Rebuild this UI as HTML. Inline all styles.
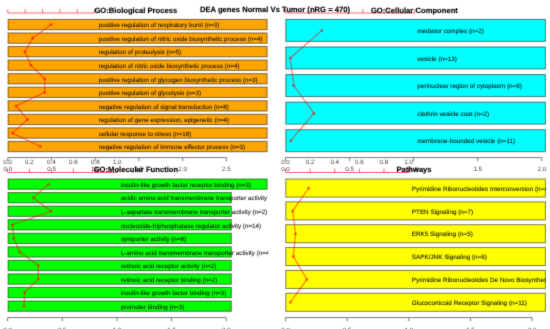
<!DOCTYPE html>
<html><head><meta charset="utf-8"><style>
html,body{margin:0;padding:0;background:#fff;}
body{width:550px;height:329px;overflow:hidden;font-family:"Liberation Sans", sans-serif;}
svg{display:block;text-rendering:geometricPrecision;}
</style></head><body>
<svg width="550" height="329" viewBox="0 0 550 329" font-family='"Liberation Sans", sans-serif'>
<filter id="bl" filterUnits="userSpaceOnUse" x="-5" y="-5" width="560" height="339" color-interpolation-filters="sRGB"><feConvolveMatrix order="3" kernelMatrix="0.01134 0.08382 0.01134 0.08382 0.61935 0.08382 0.01134 0.08382 0.01134" divisor="1" edgeMode="duplicate" preserveAlpha="true"/></filter>
<rect width="550" height="329" fill="#fff"/>
<g filter="url(#bl)">
<rect x="-5" y="-5" width="560" height="339" fill="#fff"/>
<rect x="8.10" y="19.40" width="259.00" height="10.30" fill="#FFA500" stroke="rgba(0,0,0,0.5)" stroke-width="1"/>
<rect x="8.10" y="32.96" width="259.00" height="10.30" fill="#FFA500" stroke="rgba(0,0,0,0.5)" stroke-width="1"/>
<rect x="8.10" y="46.51" width="259.00" height="10.30" fill="#FFA500" stroke="rgba(0,0,0,0.5)" stroke-width="1"/>
<rect x="8.10" y="60.07" width="259.00" height="10.30" fill="#FFA500" stroke="rgba(0,0,0,0.5)" stroke-width="1"/>
<rect x="8.10" y="73.62" width="259.00" height="10.30" fill="#FFA500" stroke="rgba(0,0,0,0.5)" stroke-width="1"/>
<rect x="8.10" y="87.18" width="259.00" height="10.30" fill="#FFA500" stroke="rgba(0,0,0,0.5)" stroke-width="1"/>
<rect x="8.10" y="100.74" width="259.00" height="10.30" fill="#FFA500" stroke="rgba(0,0,0,0.5)" stroke-width="1"/>
<rect x="8.10" y="114.29" width="259.00" height="10.30" fill="#FFA500" stroke="rgba(0,0,0,0.5)" stroke-width="1"/>
<rect x="8.10" y="127.85" width="259.00" height="10.30" fill="#FFA500" stroke="rgba(0,0,0,0.5)" stroke-width="1"/>
<rect x="8.10" y="141.40" width="259.00" height="10.30" fill="#FFA500" stroke="rgba(0,0,0,0.5)" stroke-width="1"/>
<clipPath id="c1"><rect x="0" y="0" width="268.2" height="329"/></clipPath>
<g clip-path="url(#c1)" font-size="6.25" fill="#111" stroke="#111" stroke-width="0.25" stroke-opacity="0.3">
<text x="98.7" y="27.30">positive regulation of respiratory burst (n=3)</text>
<text x="98.7" y="40.85">positive regulation of nitric oxide biosynthetic process (n=4)</text>
<text x="98.7" y="54.41">regulation of proteolysis (n=5)</text>
<text x="98.7" y="67.97">regulation of nitric oxide biosynthetic process (n=4)</text>
<text x="98.7" y="81.52">positive regulation of glycogen biosynthetic process (n=3)</text>
<text x="98.7" y="95.08">positive regulation of glycolysis (n=3)</text>
<text x="98.7" y="108.63">negative regulation of signal transduction (n=8)</text>
<text x="98.7" y="122.19">regulation of gene expression, epigenetic (n=4)</text>
<text x="98.7" y="135.75">cellular response to stress (n=18)</text>
<text x="98.7" y="149.30">negative regulation of immune effector process (n=3)</text>
</g>
<path d="M51.10,24.55 L32.60,38.10 L24.90,51.66 L30.90,65.22 L44.70,78.77 L44.70,92.33 L16.00,105.88 L27.70,119.44 L12.30,133.00 L40.40,146.55" fill="none" stroke="rgba(255,0,0,0.55)" stroke-width="1.1"/>
<circle cx="51.10" cy="24.55" r="1.5" fill="rgba(255,0,0,0.5)"/>
<circle cx="32.60" cy="38.10" r="1.5" fill="rgba(255,0,0,0.5)"/>
<circle cx="24.90" cy="51.66" r="1.5" fill="rgba(255,0,0,0.5)"/>
<circle cx="30.90" cy="65.22" r="1.5" fill="rgba(255,0,0,0.5)"/>
<circle cx="44.70" cy="78.77" r="1.5" fill="rgba(255,0,0,0.5)"/>
<circle cx="44.70" cy="92.33" r="1.5" fill="rgba(255,0,0,0.5)"/>
<circle cx="16.00" cy="105.88" r="1.5" fill="rgba(255,0,0,0.5)"/>
<circle cx="27.70" cy="119.44" r="1.5" fill="rgba(255,0,0,0.5)"/>
<circle cx="12.30" cy="133.00" r="1.5" fill="rgba(255,0,0,0.5)"/>
<circle cx="40.40" cy="146.55" r="1.5" fill="rgba(255,0,0,0.5)"/>
<rect x="285.80" y="19.40" width="259.60" height="21.98" fill="#00FFFF" stroke="rgba(0,0,0,0.5)" stroke-width="1"/>
<rect x="285.80" y="46.98" width="259.60" height="21.98" fill="#00FFFF" stroke="rgba(0,0,0,0.5)" stroke-width="1"/>
<rect x="285.80" y="74.56" width="259.60" height="21.98" fill="#00FFFF" stroke="rgba(0,0,0,0.5)" stroke-width="1"/>
<rect x="285.80" y="102.14" width="259.60" height="21.98" fill="#00FFFF" stroke="rgba(0,0,0,0.5)" stroke-width="1"/>
<rect x="285.80" y="129.72" width="259.60" height="21.98" fill="#00FFFF" stroke="rgba(0,0,0,0.5)" stroke-width="1"/>
<clipPath id="c2"><rect x="0" y="0" width="546.0" height="329"/></clipPath>
<g clip-path="url(#c2)" font-size="6.34" fill="#111" stroke="#111" stroke-width="0.25" stroke-opacity="0.3">
<text x="417.3" y="33.14">mediator complex (n=2)</text>
<text x="417.3" y="60.72">vesicle (n=13)</text>
<text x="417.3" y="88.30">perinuclear region of cytoplasm (n=6)</text>
<text x="417.3" y="115.88">clathrin vesicle coat (n=2)</text>
<text x="417.3" y="143.46">membrane-bounded vesicle (n=11)</text>
</g>
<path d="M321.80,30.39 L290.30,57.97 L293.70,85.55 L313.90,113.13 L290.80,140.71" fill="none" stroke="rgba(255,0,0,0.55)" stroke-width="1.1"/>
<circle cx="321.80" cy="30.39" r="1.5" fill="rgba(255,0,0,0.5)"/>
<circle cx="290.30" cy="57.97" r="1.5" fill="rgba(255,0,0,0.5)"/>
<circle cx="293.70" cy="85.55" r="1.5" fill="rgba(255,0,0,0.5)"/>
<circle cx="313.90" cy="113.13" r="1.5" fill="rgba(255,0,0,0.5)"/>
<circle cx="290.80" cy="140.71" r="1.5" fill="rgba(255,0,0,0.5)"/>
<rect x="8.10" y="179.00" width="259.00" height="10.30" fill="#00FF00" stroke="rgba(0,0,0,0.5)" stroke-width="1"/>
<rect x="8.10" y="192.56" width="223.20" height="10.30" fill="#00FF00" stroke="rgba(0,0,0,0.5)" stroke-width="1"/>
<rect x="8.10" y="206.11" width="223.20" height="10.30" fill="#00FF00" stroke="rgba(0,0,0,0.5)" stroke-width="1"/>
<rect x="8.10" y="219.67" width="223.20" height="10.30" fill="#00FF00" stroke="rgba(0,0,0,0.5)" stroke-width="1"/>
<rect x="8.10" y="233.22" width="223.20" height="10.30" fill="#00FF00" stroke="rgba(0,0,0,0.5)" stroke-width="1"/>
<rect x="8.10" y="246.78" width="223.20" height="10.30" fill="#00FF00" stroke="rgba(0,0,0,0.5)" stroke-width="1"/>
<rect x="8.10" y="260.34" width="223.20" height="10.30" fill="#00FF00" stroke="rgba(0,0,0,0.5)" stroke-width="1"/>
<rect x="8.10" y="273.89" width="223.20" height="10.30" fill="#00FF00" stroke="rgba(0,0,0,0.5)" stroke-width="1"/>
<rect x="8.10" y="287.45" width="223.20" height="10.30" fill="#00FF00" stroke="rgba(0,0,0,0.5)" stroke-width="1"/>
<rect x="8.10" y="301.00" width="223.20" height="10.30" fill="#00FF00" stroke="rgba(0,0,0,0.5)" stroke-width="1"/>
<clipPath id="c3"><rect x="0" y="0" width="268.2" height="329"/></clipPath>
<g clip-path="url(#c3)" font-size="6.25" fill="#111" stroke="#111" stroke-width="0.25" stroke-opacity="0.3">
<text x="120.9" y="186.90">insulin-like growth factor receptor binding (n=3)</text>
<text x="120.9" y="200.45">acidic amino acid transmembrane transporter activity (n=2)</text>
<text x="120.9" y="214.01">L-aspartate transmembrane transporter activity (n=2)</text>
<text x="120.9" y="227.57">nucleoside-triphosphatase regulator activity (n=14)</text>
<text x="120.9" y="241.12">symporter activity (n=8)</text>
<text x="120.9" y="254.68">L-amino acid transmembrane transporter activity (n=4)</text>
<text x="120.9" y="268.23">retinoic acid receptor activity (n=2)</text>
<text x="120.9" y="281.79">retinoic acid receptor binding (n=2)</text>
<text x="120.9" y="295.35">insulin-like growth factor binding (n=3)</text>
<text x="120.9" y="308.90">promoter binding (n=3)</text>
</g>
<path d="M48.50,184.15 L33.40,197.70 L51.10,211.26 L12.30,224.82 L13.80,238.37 L19.60,251.93 L38.30,265.48 L38.30,279.04 L24.50,292.60 L24.00,306.15" fill="none" stroke="rgba(255,0,0,0.55)" stroke-width="1.1"/>
<circle cx="48.50" cy="184.15" r="1.5" fill="rgba(255,0,0,0.5)"/>
<circle cx="33.40" cy="197.70" r="1.5" fill="rgba(255,0,0,0.5)"/>
<circle cx="51.10" cy="211.26" r="1.5" fill="rgba(255,0,0,0.5)"/>
<circle cx="12.30" cy="224.82" r="1.5" fill="rgba(255,0,0,0.5)"/>
<circle cx="13.80" cy="238.37" r="1.5" fill="rgba(255,0,0,0.5)"/>
<circle cx="19.60" cy="251.93" r="1.5" fill="rgba(255,0,0,0.5)"/>
<circle cx="38.30" cy="265.48" r="1.5" fill="rgba(255,0,0,0.5)"/>
<circle cx="38.30" cy="279.04" r="1.5" fill="rgba(255,0,0,0.5)"/>
<circle cx="24.50" cy="292.60" r="1.5" fill="rgba(255,0,0,0.5)"/>
<circle cx="24.00" cy="306.15" r="1.5" fill="rgba(255,0,0,0.5)"/>
<rect x="285.80" y="179.00" width="259.60" height="18.04" fill="#FFFF00" stroke="rgba(0,0,0,0.5)" stroke-width="1"/>
<rect x="285.80" y="201.85" width="259.60" height="18.04" fill="#FFFF00" stroke="rgba(0,0,0,0.5)" stroke-width="1"/>
<rect x="285.80" y="224.70" width="259.60" height="18.04" fill="#FFFF00" stroke="rgba(0,0,0,0.5)" stroke-width="1"/>
<rect x="285.80" y="247.55" width="259.60" height="18.04" fill="#FFFF00" stroke="rgba(0,0,0,0.5)" stroke-width="1"/>
<rect x="285.80" y="270.41" width="259.60" height="18.04" fill="#FFFF00" stroke="rgba(0,0,0,0.5)" stroke-width="1"/>
<rect x="285.80" y="293.26" width="259.60" height="18.04" fill="#FFFF00" stroke="rgba(0,0,0,0.5)" stroke-width="1"/>
<clipPath id="c4"><rect x="0" y="0" width="546.0" height="329"/></clipPath>
<g clip-path="url(#c4)" font-size="6.34" fill="#111" stroke="#111" stroke-width="0.25" stroke-opacity="0.3">
<text x="411.8" y="190.77">Pyrimidine Ribonucleotides Interconversion (n=4)</text>
<text x="411.8" y="213.62">PTEN Signaling (n=7)</text>
<text x="411.8" y="236.47">ERK5 Signaling (n=5)</text>
<text x="411.8" y="259.33">SAPK/JNK Signaling (n=6)</text>
<text x="411.8" y="282.18">Pyrimidine Ribonucleotides De Novo Biosynthesis (n=4)</text>
<text x="411.8" y="305.03">Glucocorticoid Receptor Signaling (n=11)</text>
</g>
<path d="M308.80,188.02 L292.70,210.87 L295.50,233.72 L293.40,256.58 L306.90,279.43 L290.40,302.28" fill="none" stroke="rgba(255,0,0,0.55)" stroke-width="1.1"/>
<circle cx="308.80" cy="188.02" r="1.5" fill="rgba(255,0,0,0.5)"/>
<circle cx="292.70" cy="210.87" r="1.5" fill="rgba(255,0,0,0.5)"/>
<circle cx="295.50" cy="233.72" r="1.5" fill="rgba(255,0,0,0.5)"/>
<circle cx="293.40" cy="256.58" r="1.5" fill="rgba(255,0,0,0.5)"/>
<circle cx="306.90" cy="279.43" r="1.5" fill="rgba(255,0,0,0.5)"/>
<circle cx="290.40" cy="302.28" r="1.5" fill="rgba(255,0,0,0.5)"/>
<path d="M7.80,13.0 H94.55" stroke="rgba(255,40,40,0.7)" stroke-width="1" fill="none"/>
<path d="M7.80,13.0 V9.20" stroke="rgba(255,40,40,0.7)" stroke-width="1" fill="none"/>
<path d="M25.15,13.0 V9.20" stroke="rgba(255,40,40,0.7)" stroke-width="1" fill="none"/>
<path d="M42.50,13.0 V9.20" stroke="rgba(255,40,40,0.7)" stroke-width="1" fill="none"/>
<path d="M59.85,13.0 V9.20" stroke="rgba(255,40,40,0.7)" stroke-width="1" fill="none"/>
<path d="M77.20,13.0 V9.20" stroke="rgba(255,40,40,0.7)" stroke-width="1" fill="none"/>
<path d="M94.55,13.0 V9.20" stroke="rgba(255,40,40,0.7)" stroke-width="1" fill="none"/>
<path d="M285.50,13.0 H414.50" stroke="rgba(255,40,40,0.7)" stroke-width="1" fill="none"/>
<path d="M285.50,13.0 V9.20" stroke="rgba(255,40,40,0.7)" stroke-width="1" fill="none"/>
<path d="M311.30,13.0 V9.20" stroke="rgba(255,40,40,0.7)" stroke-width="1" fill="none"/>
<path d="M337.10,13.0 V9.20" stroke="rgba(255,40,40,0.7)" stroke-width="1" fill="none"/>
<path d="M362.90,13.0 V9.20" stroke="rgba(255,40,40,0.7)" stroke-width="1" fill="none"/>
<path d="M388.70,13.0 V9.20" stroke="rgba(255,40,40,0.7)" stroke-width="1" fill="none"/>
<path d="M414.50,13.0 V9.20" stroke="rgba(255,40,40,0.7)" stroke-width="1" fill="none"/>
<path d="M7.50,172.5 H117.25" stroke="rgba(255,40,40,0.7)" stroke-width="1" fill="none"/>
<path d="M7.50,172.5 V168.70" stroke="rgba(255,40,40,0.7)" stroke-width="1" fill="none"/>
<path d="M29.45,172.5 V168.70" stroke="rgba(255,40,40,0.7)" stroke-width="1" fill="none"/>
<path d="M51.40,172.5 V168.70" stroke="rgba(255,40,40,0.7)" stroke-width="1" fill="none"/>
<path d="M73.35,172.5 V168.70" stroke="rgba(255,40,40,0.7)" stroke-width="1" fill="none"/>
<path d="M95.30,172.5 V168.70" stroke="rgba(255,40,40,0.7)" stroke-width="1" fill="none"/>
<path d="M117.25,172.5 V168.70" stroke="rgba(255,40,40,0.7)" stroke-width="1" fill="none"/>
<text x="7.50" y="163.5" text-anchor="middle" font-size="6.27" fill="#444">0.0</text>
<text x="29.45" y="163.5" text-anchor="middle" font-size="6.27" fill="#444">0.2</text>
<text x="51.40" y="163.5" text-anchor="middle" font-size="6.27" fill="#444">0.4</text>
<text x="73.35" y="163.5" text-anchor="middle" font-size="6.27" fill="#444">0.6</text>
<text x="95.30" y="163.5" text-anchor="middle" font-size="6.27" fill="#444">0.8</text>
<text x="117.25" y="163.5" text-anchor="middle" font-size="6.27" fill="#444">1.0</text>
<path d="M285.50,172.5 H408.60" stroke="rgba(255,40,40,0.7)" stroke-width="1" fill="none"/>
<path d="M285.50,172.5 V168.70" stroke="rgba(255,40,40,0.7)" stroke-width="1" fill="none"/>
<path d="M310.12,172.5 V168.70" stroke="rgba(255,40,40,0.7)" stroke-width="1" fill="none"/>
<path d="M334.74,172.5 V168.70" stroke="rgba(255,40,40,0.7)" stroke-width="1" fill="none"/>
<path d="M359.36,172.5 V168.70" stroke="rgba(255,40,40,0.7)" stroke-width="1" fill="none"/>
<path d="M383.98,172.5 V168.70" stroke="rgba(255,40,40,0.7)" stroke-width="1" fill="none"/>
<path d="M408.60,172.5 V168.70" stroke="rgba(255,40,40,0.7)" stroke-width="1" fill="none"/>
<text x="285.50" y="163.5" text-anchor="middle" font-size="6.27" fill="#444">0.0</text>
<text x="310.12" y="163.5" text-anchor="middle" font-size="6.27" fill="#444">0.2</text>
<text x="334.74" y="163.5" text-anchor="middle" font-size="6.27" fill="#444">0.4</text>
<text x="359.36" y="163.5" text-anchor="middle" font-size="6.27" fill="#444">0.6</text>
<text x="383.98" y="163.5" text-anchor="middle" font-size="6.27" fill="#444">0.8</text>
<text x="408.60" y="163.5" text-anchor="middle" font-size="6.27" fill="#444">1.0</text>
<path d="M7.80,157.6 H226.40" stroke="#7a7a7a" stroke-width="1" fill="none"/>
<path d="M7.80,157.6 V161.20" stroke="#7a7a7a" stroke-width="1" fill="none"/>
<path d="M51.52,157.6 V161.20" stroke="#7a7a7a" stroke-width="1" fill="none"/>
<path d="M95.24,157.6 V161.20" stroke="#7a7a7a" stroke-width="1" fill="none"/>
<path d="M138.96,157.6 V161.20" stroke="#7a7a7a" stroke-width="1" fill="none"/>
<path d="M182.68,157.6 V161.20" stroke="#7a7a7a" stroke-width="1" fill="none"/>
<path d="M226.40,157.6 V161.20" stroke="#7a7a7a" stroke-width="1" fill="none"/>
<text x="7.80" y="171.2" text-anchor="middle" font-size="6.27" fill="#444">0.0</text>
<text x="51.52" y="171.2" text-anchor="middle" font-size="6.27" fill="#444">0.5</text>
<text x="95.24" y="171.2" text-anchor="middle" font-size="6.27" fill="#444">1.0</text>
<text x="138.96" y="171.2" text-anchor="middle" font-size="6.27" fill="#444">1.5</text>
<text x="182.68" y="171.2" text-anchor="middle" font-size="6.27" fill="#444">2.0</text>
<text x="226.40" y="171.2" text-anchor="middle" font-size="6.27" fill="#444">2.5</text>
<path d="M285.50,157.6 H541.82" stroke="#7a7a7a" stroke-width="1" fill="none"/>
<path d="M285.50,157.6 V161.20" stroke="#7a7a7a" stroke-width="1" fill="none"/>
<path d="M349.58,157.6 V161.20" stroke="#7a7a7a" stroke-width="1" fill="none"/>
<path d="M413.66,157.6 V161.20" stroke="#7a7a7a" stroke-width="1" fill="none"/>
<path d="M477.74,157.6 V161.20" stroke="#7a7a7a" stroke-width="1" fill="none"/>
<path d="M541.82,157.6 V161.20" stroke="#7a7a7a" stroke-width="1" fill="none"/>
<text x="285.50" y="171.2" text-anchor="middle" font-size="6.27" fill="#444">0.0</text>
<text x="349.58" y="171.2" text-anchor="middle" font-size="6.27" fill="#444">0.5</text>
<text x="413.66" y="171.2" text-anchor="middle" font-size="6.27" fill="#444">1.0</text>
<text x="477.74" y="171.2" text-anchor="middle" font-size="6.27" fill="#444">1.5</text>
<text x="541.82" y="171.2" text-anchor="middle" font-size="6.27" fill="#444">2.0</text>
<path d="M7.60,317.6 H226.20" stroke="#7a7a7a" stroke-width="1" fill="none"/>
<path d="M7.60,317.6 V321.20" stroke="#7a7a7a" stroke-width="1" fill="none"/>
<path d="M62.25,317.6 V321.20" stroke="#7a7a7a" stroke-width="1" fill="none"/>
<path d="M116.90,317.6 V321.20" stroke="#7a7a7a" stroke-width="1" fill="none"/>
<path d="M171.55,317.6 V321.20" stroke="#7a7a7a" stroke-width="1" fill="none"/>
<path d="M226.20,317.6 V321.20" stroke="#7a7a7a" stroke-width="1" fill="none"/>
<text x="7.60" y="332.2" text-anchor="middle" font-size="6.27" fill="#444">0.0</text>
<text x="62.25" y="332.2" text-anchor="middle" font-size="6.27" fill="#444">0.5</text>
<text x="116.90" y="332.2" text-anchor="middle" font-size="6.27" fill="#444">1.0</text>
<text x="171.55" y="332.2" text-anchor="middle" font-size="6.27" fill="#444">1.5</text>
<text x="226.20" y="332.2" text-anchor="middle" font-size="6.27" fill="#444">2.0</text>
<path d="M285.60,317.6 H532.12" stroke="#7a7a7a" stroke-width="1" fill="none"/>
<path d="M285.60,317.6 V321.20" stroke="#7a7a7a" stroke-width="1" fill="none"/>
<path d="M347.23,317.6 V321.20" stroke="#7a7a7a" stroke-width="1" fill="none"/>
<path d="M408.86,317.6 V321.20" stroke="#7a7a7a" stroke-width="1" fill="none"/>
<path d="M470.49,317.6 V321.20" stroke="#7a7a7a" stroke-width="1" fill="none"/>
<path d="M532.12,317.6 V321.20" stroke="#7a7a7a" stroke-width="1" fill="none"/>
<text x="285.60" y="332.2" text-anchor="middle" font-size="6.27" fill="#444">0.0</text>
<text x="347.23" y="332.2" text-anchor="middle" font-size="6.27" fill="#444">0.5</text>
<text x="408.86" y="332.2" text-anchor="middle" font-size="6.27" fill="#444">1.0</text>
<text x="470.49" y="332.2" text-anchor="middle" font-size="6.27" fill="#444">1.5</text>
<text x="532.12" y="332.2" text-anchor="middle" font-size="6.27" fill="#444">2.0</text>
<g font-weight="bold" font-size="7.65" fill="#000" stroke="#000" stroke-width="0.25" stroke-opacity="0.6">
<text x="275" y="11.8" text-anchor="middle">DEA genes Normal Vs Tumor (nRG = 470)</text>
<text x="135.8" y="12.9" text-anchor="middle">GO:Biological Process</text>
<text x="414.4" y="12.9" text-anchor="middle">GO:Cellular Component</text>
<text x="135.9" y="172.0" text-anchor="middle">GO:Molecular Function</text>
<text x="414.0" y="172.0" text-anchor="middle">Pathways</text>
</g>
</g>
</svg>
</body></html>
